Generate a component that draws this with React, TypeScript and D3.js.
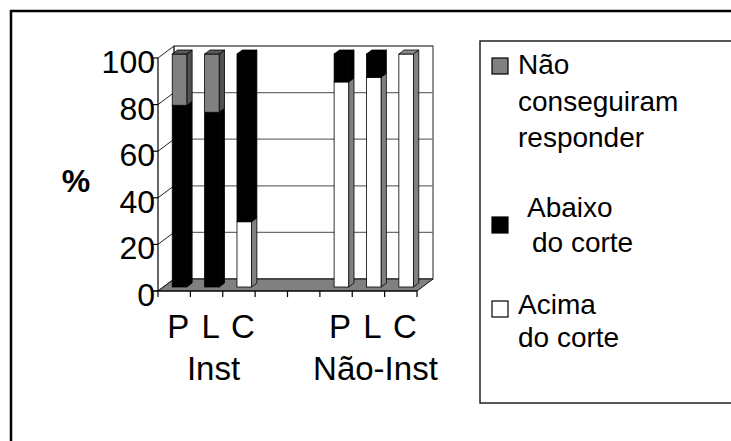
import React, { useEffect, useRef } from 'react';
import * as d3 from 'd3';

// categories along the x axis (two blank slots between the groups)
const categories = ['P', 'L', 'C', '', '', 'P', 'L', 'C'];
const groups = ['Inst', 'Não-Inst'];
const groupMembers = [[0, 1, 2], [5, 6, 7]];

// stacked values in %, bottom to top
const acimaDoCorte = [0, 0, 28, 0, 0, 88, 90, 100];
const abaixoDoCorte = [78, 75, 72, 0, 0, 12, 10, 0];
const naoConseguiram = [22, 25, 0, 0, 0, 0, 0, 0];

const yTicks = [0, 20, 40, 60, 80, 100];

const seriesKeys = ['acima', 'abaixo', 'nao'];
const seriesFront = ['#ffffff', '#000000', '#808080'];
const seriesSide = ['#808080', '#000000', '#505050'];
const seriesTop = ['#8c8c8c', '#000000', '#5a5a5a'];

// legend, top entry first
const legendLines = [['Não', 'conseguiram', 'responder'], ['Abaixo', 'do corte'], ['Acima', 'do corte']];
const legendSeries = [2, 1, 0];

const FONT = '"Liberation Sans", Arial, sans-serif';

const App: React.FC = () => {
  const svgRef = useRef<SVGSVGElement | null>(null);

  useEffect(() => {
    if (!svgRef.current) return;
    const svg = d3.select(svgRef.current);
    svg.selectAll('*').remove();

    const width = 731;
    const height = 441;
    const DX = 16; // depth offset of the 3d box
    const DY = -12;

    svg.attr('width', width).attr('height', height);

    // outer frame (cut by the picture edges)
    svg.append('rect')
      .attr('x', 11).attr('y', 11)
      .attr('width', 760).attr('height', 460)
      .attr('fill', 'white').attr('stroke', 'black').attr('stroke-width', 2.5);

    const x = d3.scaleBand<number>().domain(d3.range(categories.length)).range([158, 417]).padding(0);
    const y = d3.scaleLinear().domain([0, 100]).range([291, 58]);
    const x0 = 158;
    const x1 = 417;

    // back wall
    svg.append('rect')
      .attr('x', x0 + DX).attr('y', y(100) + DY)
      .attr('width', x1 - x0).attr('height', y(0) - y(100))
      .attr('fill', 'white').attr('stroke', '#222').attr('stroke-width', 1);

    // gridlines on the back wall and the left wall
    yTicks.forEach((t) => {
      svg.append('line')
        .attr('x1', x0 + DX).attr('x2', x1 + DX)
        .attr('y1', y(t) + DY).attr('y2', y(t) + DY)
        .attr('stroke', '#6e6e6e').attr('stroke-width', 1.2);
      svg.append('line')
        .attr('x1', x0).attr('x2', x0 + DX)
        .attr('y1', y(t)).attr('y2', y(t) + DY)
        .attr('stroke', '#222').attr('stroke-width', 1);
    });
    svg.append('line')
      .attr('x1', x0 + DX).attr('x2', x0 + DX)
      .attr('y1', y(100) + DY).attr('y2', y(0) + DY)
      .attr('stroke', '#222');

    // floor
    svg.append('polygon')
      .attr('points', [
        [x0, y(0)], [x1, y(0)], [x1 + DX, y(0) + DY], [x0 + DX, y(0) + DY],
      ].map((p) => p.join(',')).join(' '))
      .attr('fill', '#808080').attr('stroke', '#111').attr('stroke-width', 1);

    // y axis
    svg.append('line')
      .attr('x1', x0).attr('x2', x0).attr('y1', y(100)).attr('y2', y(0))
      .attr('stroke', 'black').attr('stroke-width', 1.2);
    yTicks.forEach((t) => {
      svg.append('line')
        .attr('x1', x0 - 6).attr('x2', x0).attr('y1', y(t)).attr('y2', y(t))
        .attr('stroke', 'black').attr('stroke-width', 1.2);
      svg.append('text')
        .attr('x', 155).attr('y', y(t) + 15)
        .attr('text-anchor', 'end')
        .style('font-family', FONT).style('font-size', '32px')
        .text(String(t));
    });

    // x axis
    svg.append('line')
      .attr('x1', x0 - 6).attr('x2', x1).attr('y1', y(0)).attr('y2', y(0))
      .attr('stroke', 'black').attr('stroke-width', 1.2);
    d3.range(categories.length + 1).forEach((i) => {
      const xv = x0 + i * x.step();
      svg.append('line')
        .attr('x1', xv).attr('x2', xv).attr('y1', y(0)).attr('y2', y(0) + 6)
        .attr('stroke', 'black').attr('stroke-width', 1.2);
    });

    // stacked 3d bars
    const table = categories.map((c, i) => ({
      idx: i,
      acima: acimaDoCorte[i],
      abaixo: abaixoDoCorte[i],
      nao: naoConseguiram[i],
    }));
    const stacked = d3.stack<any>().keys(seriesKeys)(table);

    const f = 1 / 3; // bar sits in the middle third of the depth
    const bdx = DX * f;
    const bdy = DY * f;
    const bw = x.bandwidth() * 0.45;
    const bars = svg.append('g');

    categories.forEach((cat, i) => {
      if (!cat) return;
      const left = (x(i) as number) + (x.bandwidth() - bw) / 2 + bdx;
      const right = left + bw;
      let topIndex = -1;
      stacked.forEach((s, k) => { if (s[i][1] - s[i][0] > 0) topIndex = k; });

      stacked.forEach((s, k) => {
        const [a, b] = s[i];
        if (b - a <= 0) return;
        const yb = y(a) + bdy;
        const yt = y(b) + bdy;
        // side face
        bars.append('polygon')
          .attr('points', [[right, yb], [right + bdx, yb + bdy], [right + bdx, yt + bdy], [right, yt]]
            .map((p) => p.join(',')).join(' '))
          .attr('fill', seriesSide[k]).attr('stroke', 'black').attr('stroke-width', 0.8);
        // front face
        bars.append('rect')
          .attr('x', left).attr('y', yt).attr('width', bw).attr('height', yb - yt)
          .attr('fill', seriesFront[k]).attr('stroke', 'black').attr('stroke-width', 0.8);
        if (k === topIndex) {
          bars.append('polygon')
            .attr('points', [[left, yt], [right, yt], [right + bdx, yt + bdy], [left + bdx, yt + bdy]]
              .map((p) => p.join(',')).join(' '))
            .attr('fill', seriesTop[k]).attr('stroke', 'black').attr('stroke-width', 0.8);
        }
      });
    });

    // category labels
    categories.forEach((cat, i) => {
      if (!cat) return;
      svg.append('text')
        .attr('x', (x(i) as number) + x.bandwidth() / 2 + 4)
        .attr('y', 338)
        .attr('text-anchor', 'middle')
        .style('font-family', FONT).style('font-size', '33px')
        .text(cat);
    });
    groups.forEach((g, gi) => {
      const cx = d3.mean(groupMembers[gi], (i) => (x(i) as number) + x.bandwidth() / 2) as number;
      svg.append('text')
        .attr('x', cx + 7).attr('y', 380)
        .attr('text-anchor', 'middle')
        .style('font-family', FONT).style('font-size', '33px')
        .text(g);
    });

    // axis title
    svg.append('text')
      .attr('x', 76).attr('y', 192)
      .attr('text-anchor', 'middle')
      .style('font-family', FONT).style('font-size', '32px').style('font-weight', 'bold')
      .text('%');

    // legend
    svg.append('rect')
      .attr('x', 480).attr('y', 41).attr('width', 300).attr('height', 362)
      .attr('fill', 'none').attr('stroke', '#222').attr('stroke-width', 1.5);

    const swatchY = [58, 217, 301];
    const textX = [[518, 518, 518], [527, 532], [518, 518]];
    const textY = [[74, 111, 147], [217, 252], [314, 347]];
    legendLines.forEach((lines, li) => {
      const k = legendSeries[li];
      svg.append('rect')
        .attr('x', 492).attr('y', swatchY[li]).attr('width', 16).attr('height', 16)
        .attr('fill', seriesFront[k]).attr('stroke', 'black').attr('stroke-width', 1.2);
      lines.forEach((ln, j) => {
        svg.append('text')
          .attr('x', textX[li][j]).attr('y', textY[li][j])
          .style('font-family', FONT).style('font-size', '28px')
          .text(ln);
      });
    });
  }, []);

  return (
    <svg ref={svgRef} style={{ position: 'fixed', left: 0, top: 0, display: 'block' }}></svg>
  );
};

export default App;
